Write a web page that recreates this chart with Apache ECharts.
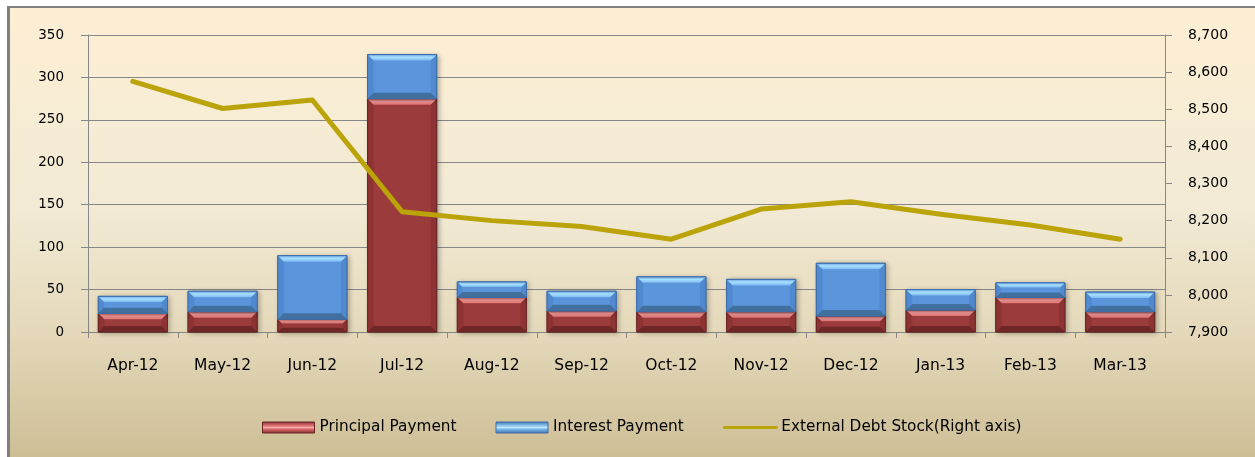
<!DOCTYPE html>
<html>
<head>
<meta charset="utf-8">
<script src="https://cdn.jsdelivr.net/npm/echarts@6/dist/echarts.min.js"></script>
<style>
  html, body { margin: 0; padding: 0; background: #ffffff; }
  #bg {
    position: absolute; left: 7px; top: 6px; width: 1248px; height: 451px;
    border-left: 3px solid #808080; border-top: 2px solid #808080; box-sizing: border-box;
    background: linear-gradient(to bottom, #FDEFD4 0%, #F2EAD5 45%, #E4D8B9 73%, #CDBE96 100%);
  }
  #chart { position: absolute; left: 0; top: 0; width: 1255px; height: 457px; }
</style>
</head>
<body>
<div id="bg"></div>
<div id="chart"></div>
<script>
const categories = ['Apr-12','May-12','Jun-12','Jul-12','Aug-12','Sep-12','Oct-12','Nov-12','Dec-12','Jan-13','Feb-13','Mar-13'];
const principalPayment = [22, 24, 15, 275, 41, 25, 24, 24, 19, 26, 41, 24];
const interestPayment  = [20, 24, 75, 52, 18, 23, 41, 38, 62, 24, 17, 23];
const externalDebtStock = [8575, 8502, 8525, 8224, 8200, 8184, 8150, 8231, 8251, 8217, 8188, 8150];
const leftTicks = { min: 0, max: 350, interval: 50 };
const rightTicks = { min: 7900, max: 8700, interval: 100 };

const LG = echarts.graphic.LinearGradient;
const palettes = {
  principal: {
    main: '#9C3B3B', edge: '#6A2626', side: '#8E3333', bottom: '#6E2626',
    top: [[0, '#D25E5E'], [0.45, '#F39A9A'], [1, '#E27474']]
  },
  interest: {
    main: '#5B96DD', edge: '#3E6DA6', side: '#5089CF', bottom: '#41709F',
    top: [[0, '#6BA6E8'], [0.45, '#A8E0FF'], [1, '#7CB9F0']]
  }
};

function makeRender(pal) {
  return function (params, api) {
    const idx = api.value(0);
    const p0 = api.coord([idx, api.value(1)]);
    const p1 = api.coord([idx, api.value(2)]);
    const bw = api.size([1, 0])[0] * 0.77;
    const L = p0[0] - bw / 2, R = p0[0] + bw / 2, B = p0[1], T = p1[1];
    const h = B - T;
    const b = Math.min(6, h / 3);
    const stops = pal.top.map(s => ({ offset: s[0], color: s[1] }));
    return {
      type: 'group',
      children: [
        { type: 'rect', shape: { x: L, y: T, width: bw, height: h },
          style: { fill: pal.main, stroke: pal.edge, lineWidth: 1,
                   shadowBlur: 5, shadowColor: 'rgba(0,0,0,0.3)', shadowOffsetX: 2, shadowOffsetY: 1 } },
        { type: 'polygon', shape: { points: [[L + b, T + b], [L, T], [L, B], [L + b, B - b]] },
          style: { fill: pal.side } },
        { type: 'polygon', shape: { points: [[R - b, T + b], [R, T], [R, B], [R - b, B - b]] },
          style: { fill: pal.side } },
        { type: 'polygon', shape: { points: [[L, B], [R, B], [R - b, B - b], [L + b, B - b]] },
          style: { fill: pal.bottom } },
        { type: 'polygon', shape: { points: [[L, T], [R, T], [R - b, T + b], [L + b, T + b]] },
          style: { fill: new LG(0, 0, 0, 1, stops) } },
        { type: 'rect', shape: { x: L, y: T, width: bw, height: h },
          style: { fill: 'none', stroke: pal.edge, lineWidth: 1 } }
      ]
    };
  };
}

const principalData = principalPayment.map((v, i) => [i, 0, v]);
const interestData = interestPayment.map((v, i) => [i, principalPayment[i], principalPayment[i] + v]);

const legendPrincipal = new LG(0, 0, 0, 1, [
  { offset: 0, color: '#7E2E2E' }, { offset: 0.35, color: '#E07070' },
  { offset: 0.5, color: '#F7A8A8' }, { offset: 0.65, color: '#D86A6A' }, { offset: 1, color: '#7A2A2A' }]);
const legendInterest = new LG(0, 0, 0, 1, [
  { offset: 0, color: '#3F6FAA' }, { offset: 0.35, color: '#8CC6F2' },
  { offset: 0.5, color: '#BDE8FF' }, { offset: 0.65, color: '#78B4EC' }, { offset: 1, color: '#3F6FAA' }]);

const axisFont = 'DejaVu Sans';
const gridColor = '#878787';

const chart = echarts.init(document.getElementById('chart'), null, { renderer: 'canvas' });
chart.setOption({
  backgroundColor: 'transparent',
  animation: false,
  grid: { left: 88, right: 90, top: 35, bottom: 125, containLabel: false },
  legend: {
    left: 257, top: 415,
    itemWidth: 52, itemHeight: 11, itemGap: 39,
    textStyle: { fontFamily: axisFont, fontSize: 15.3, color: '#000' },
    data: [
      { name: 'Principal Payment', icon: 'rect', itemStyle: { color: legendPrincipal, borderColor: '#6A2626', borderWidth: 1 } },
      { name: 'Interest Payment', icon: 'rect', itemStyle: { color: legendInterest, borderColor: '#3E6DA6', borderWidth: 1 } },
      { name: 'External Debt Stock(Right axis)', itemStyle: { opacity: 0 }, lineStyle: { width: 3, color: '#BBA30A' } }
    ]
  },
  xAxis: {
    type: 'category',
    data: categories,
    boundaryGap: true,
    axisLine: { lineStyle: { color: gridColor, width: 1 } },
    axisTick: { show: true, length: 6, lineStyle: { color: gridColor } },
    axisLabel: { margin: 26, fontFamily: axisFont, fontSize: 15.5, color: '#000' },
    splitLine: { show: false }
  },
  yAxis: [
    {
      type: 'value', position: 'left',
      min: leftTicks.min, max: leftTicks.max, interval: leftTicks.interval,
      axisLine: { show: true, lineStyle: { color: gridColor, width: 1 } },
      axisTick: { show: true, length: 7, lineStyle: { color: gridColor } },
      axisLabel: { margin: 24, fontFamily: axisFont, fontSize: 13.5, color: '#000' },
      splitLine: { show: true, lineStyle: { color: gridColor, width: 1.2 } }
    },
    {
      type: 'value', position: 'right',
      min: rightTicks.min, max: rightTicks.max, interval: rightTicks.interval,
      axisLine: { show: true, lineStyle: { color: gridColor, width: 1 } },
      axisTick: { show: true, length: 7, lineStyle: { color: gridColor } },
      axisLabel: {
        margin: 23, fontFamily: axisFont, fontSize: 14, color: '#000',
        formatter: v => v.toLocaleString('en-US')
      },
      splitLine: { show: false }
    }
  ],
  series: [
    {
      name: 'Principal Payment', type: 'custom', yAxisIndex: 0, z: 2,
      itemStyle: { color: '#9C3B3B' },
      renderItem: makeRender(palettes.principal),
      encode: { x: 0, y: [1, 2] },
      data: principalData
    },
    {
      name: 'Interest Payment', type: 'custom', yAxisIndex: 0, z: 2,
      itemStyle: { color: '#5B96DD' },
      renderItem: makeRender(palettes.interest),
      encode: { x: 0, y: [1, 2] },
      data: interestData
    },
    {
      name: 'External Debt Stock(Right axis)', type: 'line', yAxisIndex: 1, z: 5,
      data: externalDebtStock,
      symbol: 'none',
      lineStyle: { color: '#BBA30A', width: 5, cap: 'round', join: 'round' },
      itemStyle: { color: '#BBA30A' }
    }
  ]
});
</script>
</body>
</html>
